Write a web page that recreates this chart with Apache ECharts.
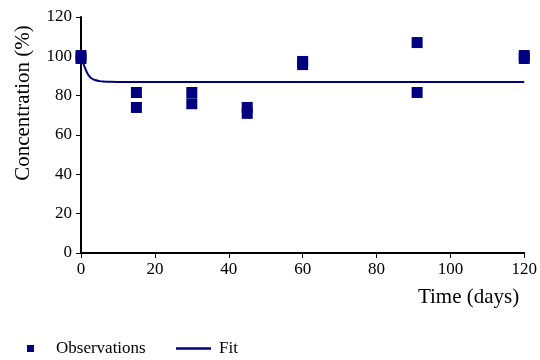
<!DOCTYPE html>
<html>
<head>
<meta charset="utf-8">
<script src="https://cdn.jsdelivr.net/npm/echarts@6/dist/echarts.min.js"></script>
<style>html,body{margin:0;padding:0;background:#fff}#c{width:540px;height:360px}</style>
</head>
<body>
<div id="c"></div>
<script>
// Observations (time in days, concentration in %)
var obsDays = [0, 0, 15, 15, 30, 30, 45, 45, 60, 60, 91, 91, 120, 120];
var obsConc = [100.4, 98.9, 81.6, 74.0, 81.6, 75.9, 74.0, 71.0, 97.4, 95.8, 107.0, 81.6, 100.4, 98.9];
// Fit curve
var fitDays = [0, 0.5, 1, 1.5, 2, 2.5, 3, 4, 5, 6, 8, 10, 120];
var fitConc = [100, 97, 94.5, 92.3, 90.5, 89.4, 88.6, 87.8, 87.4, 87.2, 87.05, 87, 87];
var xTicks = [0, 20, 40, 60, 80, 100, 120];
var yTicks = [0, 20, 40, 60, 80, 100, 120];

var navy = '#000080';
var font = "'Liberation Serif', 'Times New Roman', serif";

function pairs(xs, ys) { return xs.map(function (x, i) { return [x, ys[i]]; }); }

var chart = echarts.init(document.getElementById('c'));
chart.setOption({
  animation: false,
  backgroundColor: '#fff',
  grid: { left: 81, right: 15, top: 17, bottom: 107, containLabel: false },
  xAxis: {
    type: 'value', min: xTicks[0], max: xTicks[xTicks.length - 1], interval: 20,
    name: 'Time (days)', nameLocation: 'end', nameGap: 0,
    nameTextStyle: { fontFamily: font, fontSize: 21, color: '#000', align: 'right', verticalAlign: 'top', padding: [34, 5, 0, 0] },
    axisLine: { lineStyle: { color: '#000', width: 2 } },
    axisTick: { show: true, length: 5, lineStyle: { color: '#000', width: 1 } },
    axisLabel: { fontFamily: font, fontSize: 17, color: '#000', margin: 8 },
    splitLine: { show: false }
  },
  yAxis: {
    type: 'value', min: yTicks[0], max: yTicks[yTicks.length - 1], interval: 20,
    name: 'Concentration (%)', nameLocation: 'middle', nameGap: 47, nameRotate: 90,
    nameTextStyle: { fontFamily: font, fontSize: 21, color: '#000', padding: [0, 0, 0, 64] },
    axisLine: { show: true, lineStyle: { color: '#000', width: 2 } },
    axisTick: { show: true, length: 5, lineStyle: { color: '#000', width: 1 } },
    axisLabel: { fontFamily: font, fontSize: 17, color: '#000', margin: 9 },
    splitLine: { show: false }
  },
  legend: [
    {
      data: [{ name: 'Observations', icon: 'rect' }],
      left: 27, top: 340, padding: 0, itemWidth: 7, itemHeight: 7,
      textStyle: { fontFamily: font, fontSize: 17, color: '#000', padding: [0, 0, 0, 17] }
    },
    {
      data: [{ name: 'Fit', icon: 'path://M0,0L35,0L35,2.5L0,2.5Z' }],
      left: 176, top: 340, padding: 0, itemWidth: 35, itemHeight: 2.5,
      textStyle: { fontFamily: font, fontSize: 17, color: '#000', padding: [0, 0, 0, 3] }
    }
  ],
  series: [
    {
      name: 'Fit', type: 'line', data: pairs(fitDays, fitConc), smooth: 0.4,
      showSymbol: false, symbol: 'none',
      lineStyle: { color: navy, width: 2 }, itemStyle: { color: navy }, z: 2
    },
    {
      name: 'Observations', type: 'scatter', data: pairs(obsDays, obsConc),
      symbol: 'rect', symbolSize: 11,
      itemStyle: { color: navy, opacity: 1 }, z: 3
    }
  ]
});
</script>
</body>
</html>
